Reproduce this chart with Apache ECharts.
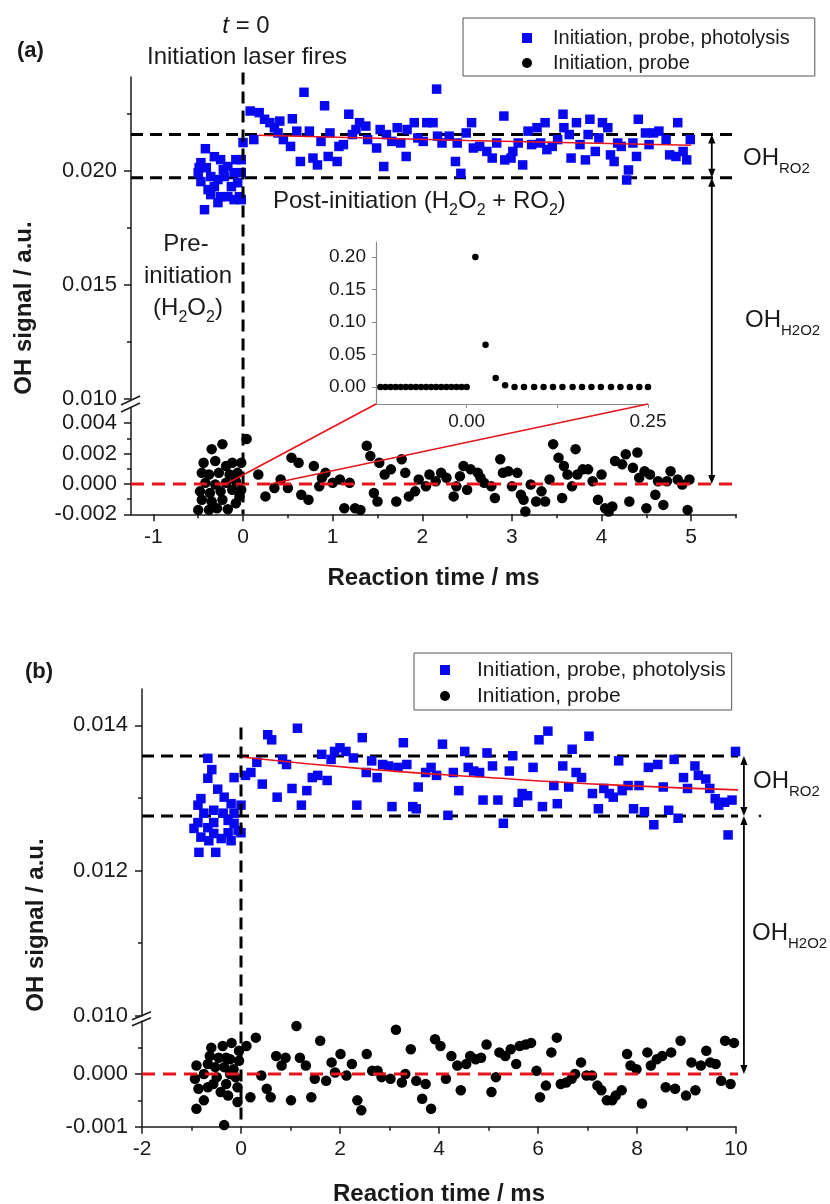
<!DOCTYPE html>
<html><head><meta charset="utf-8">
<script src="https://cdn.jsdelivr.net/npm/echarts@6/dist/echarts.min.js"></script>
<style>html,body{margin:0;padding:0;background:#fff}#c{width:830px;height:1204px}</style>
</head><body><div id="c"></div>
<script>
// ---------------- Panel (a) data ----------------
const aPhotolysisPre = [[-0.42,0.02096],[-0.47,0.02035],[-0.50,0.01991],[-0.47,0.01952],[-0.39,0.01917],[-0.43,0.01829],[-0.28,0.01860],[-0.32,0.02061],[-0.25,0.02048],[-0.17,0.02018],[-0.10,0.01991],[-0.13,0.01930],[-0.04,0.01886],[-0.02,0.01873],[-0.10,0.01873],[-0.36,0.01974],[-0.28,0.01961],[-0.21,0.01974],[-0.17,0.01886],[-0.02,0.01991],[-0.02,0.02048],[0.00,0.02123],[-0.49,0.02013],[-0.41,0.02013],[-0.08,0.02048],[-0.25,0.01886],[-0.32,0.01930],[-0.22,0.02004],[-0.36,0.01895],[-0.06,0.01947]];
const aPhotolysisPost = [[0.08,0.02261],[0.18,0.02254],[0.12,0.02136],[0.24,0.02225],[0.30,0.02210],[0.35,0.02188],[0.41,0.02217],[0.39,0.02165],[0.45,0.02136],[0.53,0.02106],[0.55,0.02227],[0.60,0.02173],[0.64,0.02040],[0.68,0.02343],[0.74,0.02173],[0.78,0.02055],[0.83,0.02025],[0.87,0.02128],[0.91,0.02284],[0.97,0.02165],[0.95,0.02062],[1.05,0.02040],[1.07,0.02106],[1.12,0.02114],[1.18,0.02247],[1.22,0.02158],[1.26,0.02180],[1.30,0.02210],[1.37,0.02195],[1.39,0.02136],[1.49,0.02099],[1.53,0.02180],[1.57,0.02018],[1.60,0.02158],[1.66,0.02128],[1.72,0.02188],[1.76,0.02121],[1.82,0.02062],[1.83,0.02180],[1.91,0.02210],[1.95,0.02143],[2.01,0.02128],[2.05,0.02210],[2.12,0.02210],[2.16,0.02357],[2.17,0.02151],[2.22,0.02121],[2.30,0.02151],[2.37,0.02040],[2.39,0.02121],[2.43,0.01988],[2.49,0.02165],[2.55,0.02210],[2.57,0.02099],[2.64,0.02106],[2.72,0.02084],[2.78,0.02055],[2.83,0.02121],[2.91,0.02239],[2.92,0.02047],[2.99,0.02055],[3.01,0.02084],[3.07,0.02121],[3.12,0.02025],[3.18,0.02173],[3.22,0.02114],[3.28,0.02188],[3.32,0.02121],[3.37,0.02210],[3.39,0.02092],[3.45,0.02106],[3.51,0.02136],[3.57,0.02247],[3.58,0.02188],[3.64,0.02158],[3.66,0.02055],[3.72,0.02210],[3.76,0.02114],[3.82,0.02047],[3.85,0.02158],[3.87,0.02225],[3.93,0.02084],[3.97,0.02143],[4.01,0.02210],[4.07,0.02188],[4.10,0.02069],[4.14,0.02040],[4.18,0.02121],[4.22,0.02106],[4.28,0.01959],[4.30,0.02003],[4.35,0.02121],[4.39,0.02062],[4.41,0.02225],[4.49,0.02165],[4.53,0.02114],[4.58,0.02165],[4.64,0.02173],[4.72,0.02136],[4.76,0.02069],[4.83,0.02062],[4.85,0.02210],[4.91,0.02084],[4.95,0.02047],[4.99,0.02136]];
const aProbePre = [[-0.23,0.00262],[-0.35,0.00229],[0.04,0.00296],[-0.44,0.00140],[-0.31,0.00151],[-0.19,0.00118],[-0.12,0.00140],[-0.02,0.00140],[-0.46,0.00073],[-0.38,0.00062],[-0.27,0.00073],[-0.15,0.00062],[-0.06,0.00073],[-0.42,0.00007],[-0.31,-0.00004],[-0.19,0.00007],[-0.08,0.00018],[-0.48,-0.00049],[-0.37,-0.00060],[-0.25,-0.00049],[-0.12,-0.00038],[-0.02,-0.00038],[-0.46,-0.00104],[-0.35,-0.00116],[-0.23,-0.00104],[-0.50,-0.00171],[-0.38,-0.00171],[-0.29,-0.00160],[-0.17,-0.00167],[-0.08,-0.00127],[-0.04,-0.00082]];
const aProbePost = [[0.17,0.00062],[0.25,-0.00082],[0.35,-0.00027],[0.42,0.00029],[0.50,-0.00027],[0.54,0.00173],[0.62,0.00140],[0.65,-0.00071],[0.73,-0.00104],[0.79,0.00118],[0.85,-0.00016],[0.88,0.00040],[0.92,0.00073],[1.00,0.00007],[1.08,0.00029],[1.13,-0.00160],[1.19,0.00007],[1.25,-0.00160],[1.31,-0.00171],[1.38,0.00251],[1.42,0.00184],[1.46,-0.00060],[1.50,-0.00116],[1.52,0.00140],[1.58,0.00062],[1.65,0.00096],[1.71,-0.00116],[1.77,0.00162],[1.81,0.00073],[1.85,-0.00082],[1.92,-0.00049],[1.96,0.00029],[2.04,-0.00016],[2.08,0.00062],[2.15,0.00018],[2.21,0.00073],[2.27,0.00040],[2.35,-0.00082],[2.38,-0.00016],[2.42,0.00051],[2.46,0.00118],[2.50,-0.00038],[2.54,0.00096],[2.62,0.00073],[2.65,0.00040],[2.69,0.00007],[2.77,-0.00016],[2.81,-0.00093],[2.87,0.00162],[2.90,0.00073],[2.96,0.00084],[3.00,-0.00016],[3.06,0.00073],[3.10,-0.00071],[3.13,-0.00104],[3.15,-0.00182],[3.21,-0.00004],[3.27,-0.00116],[3.33,-0.00049],[3.37,-0.00116],[3.42,0.00029],[3.46,0.00262],[3.52,0.00173],[3.56,-0.00093],[3.58,0.00118],[3.62,0.00062],[3.67,-0.00016],[3.71,0.00229],[3.73,0.00062],[3.79,0.00096],[3.85,0.00096],[3.90,0.00018],[3.96,-0.00104],[4.00,0.00062],[4.04,-0.00160],[4.08,-0.00182],[4.12,-0.00149],[4.15,0.00151],[4.23,0.00129],[4.27,0.00196],[4.31,-0.00116],[4.35,0.00107],[4.40,0.00207],[4.42,0.00040],[4.48,0.00084],[4.50,-0.00160],[4.54,0.00062],[4.60,-0.00071],[4.63,0.00018],[4.69,-0.00138],[4.73,0.00018],[4.77,0.00084],[4.85,0.00029],[4.90,-0.00004],[4.96,-0.00171],[4.98,0.00029]];
const aInset = [[-0.119,0],[-0.112,0],[-0.105,0],[-0.098,0],[-0.091,0],[-0.084,0],[-0.077,0],[-0.070,0],[-0.063,0],[-0.056,0],[-0.049,0],[-0.042,0],[-0.035,0],[-0.028,0],[-0.021,0],[-0.014,0],[-0.007,0],[0.000,0],[0.012,0.200],[0.026,0.065],[0.040,0.014],[0.053,0.003],[0.066,0],[0.079,0],[0.093,0],[0.106,0],[0.119,0],[0.132,0],[0.146,0],[0.159,0],[0.172,0],[0.185,0],[0.199,0],[0.212,0],[0.225,0],[0.238,0],[0.250,0]];
const aFit = [[0.17,0.02155],[2.5,0.02132],[5.0,0.02111]];
const aLevels = [0.02158, 0.01969];
const aXTicks = [-1,0,1,2,3,4,5];
const aXMinor = [-0.5,0.5,1.5,2.5,3.5,4.5,5.5];
const aYTicksUpper = [0.010,0.015,0.020];
const aYMinorUpper = [0.0125,0.0175,0.0225];
const aYTicksLower = [-0.002,0,0.002,0.004];
const aYMinorLower = [-0.001,0.001,0.003];
const aInsetYTicks = [0,0.05,0.10,0.15,0.20];
const aInsetXTicks = [0,0.25];
const aInsetXTickMarks = [0,0.125,0.25];

// ---------------- Panel (b) data ----------------
const bPhotolysisPre = [[-0.67,0.013545],[-0.59,0.01339],[-0.67,0.01327],[-0.47,0.01312],[-0.81,0.01299],[-0.87,0.01290],[-0.34,0.01301],[-0.20,0.01292],[0.00,0.01290],[-0.14,0.01328],[-0.95,0.01258],[-0.81,0.01246],[-0.65,0.01241],[-0.40,0.01244],[-0.20,0.01241],[-0.85,0.01225],[-0.51,0.01225],[-0.55,0.01266],[-0.06,0.01255],[-0.75,0.01279],[-0.55,0.01283],[-0.26,0.01269],[-0.87,0.01266],[-0.36,0.01279],[-0.14,0.01265],[0.00,0.01252],[-0.26,0.01252],[-0.55,0.01251],[-0.67,0.01259],[-0.14,0.01279]];
const bPhotolysisPost = [[0.09,0.01331],[0.20,0.01335],[0.32,0.01349],[0.43,0.01319],[0.54,0.01387],[0.62,0.01380],[0.73,0.01301],[0.84,0.01353],[0.92,0.01346],[1.03,0.01313],[1.14,0.01396],[1.22,0.01290],[1.33,0.01310],[1.44,0.01328],[1.55,0.01331],[1.63,0.01360],[1.74,0.01324],[1.82,0.01353],[1.89,0.01364],[2.00,0.01369],[2.12,0.01364],[2.27,0.01355],[2.34,0.01290],[2.45,0.01383],[2.53,0.01335],[2.64,0.01351],[2.75,0.01328],[2.86,0.01346],[2.98,0.01344],[3.05,0.01288],[3.17,0.01342],[3.28,0.01376],[3.35,0.01346],[3.47,0.01288],[3.54,0.01285],[3.58,0.01315],[3.73,0.01335],[3.84,0.01342],[3.95,0.01331],[4.07,0.01374],[4.18,0.01276],[4.29,0.01335],[4.40,0.01310],[4.52,0.01364],[4.59,0.01342],[4.70,0.01337],[4.82,0.01335],[4.89,0.01297],[4.97,0.01362],[5.08,0.01344],[5.19,0.01297],[5.30,0.01265],[5.42,0.01337],[5.49,0.01358],[5.60,0.01294],[5.68,0.01306],[5.79,0.01303],[5.90,0.01342],[6.02,0.01380],[6.09,0.01288],[6.20,0.01392],[6.32,0.01317],[6.39,0.01292],[6.50,0.01344],[6.62,0.01315],[6.69,0.01367],[6.77,0.01335],[6.88,0.01328],[7.03,0.01385],[7.10,0.01306],[7.22,0.01285],[7.33,0.01313],[7.44,0.01306],[7.52,0.01301],[7.63,0.01351],[7.70,0.01310],[7.82,0.01317],[7.93,0.01285],[8.04,0.01317],[8.15,0.01281],[8.23,0.01342],[8.34,0.01263],[8.42,0.01346],[8.53,0.01315],[8.64,0.01283],[8.75,0.01353],[8.83,0.01272],[8.94,0.01328],[9.02,0.01313],[9.17,0.01344],[9.24,0.01331],[9.39,0.01326],[9.47,0.01313],[9.58,0.01299],[9.65,0.01290],[9.77,0.01294],[9.84,0.01249],[9.92,0.01297],[9.99,0.01364]];
const bProbePre = [[-0.90,0.00016],[-0.93,-0.00009],[-0.86,-0.00028],[-0.90,-0.00066],[-0.75,-0.00050],[-0.67,-0.00025],[-0.63,0.00034],[-0.60,0.00050],[-0.52,0.00013],[-0.49,-0.00006],[-0.45,0.00031],[-0.41,-0.00034],[-0.37,0.00053],[-0.34,0.00013],[-0.30,-0.00019],[-0.26,-0.00041],[-0.22,0.00028],[-0.19,0.00059],[-0.15,0.00009],[-0.11,-0.00006],[-0.07,-0.00025],[-0.07,-0.00053],[-0.04,0.00044],[-0.04,0.00025],[-0.34,-0.00097],[-0.67,0.00019],[-0.56,-0.00019],[-0.22,0.00000],[-0.75,0.00000],[-0.30,0.00031]];
const bProbePost = [[0.11,0.00053],[0.19,-0.00044],[0.30,0.00069],[0.41,-0.00003],[0.52,-0.00028],[0.60,-0.00044],[0.71,0.00034],[0.82,0.00016],[0.90,0.00031],[1.01,-0.00050],[1.12,0.00091],[1.19,0.00031],[1.31,0.00016],[1.42,-0.00044],[1.49,-0.00009],[1.60,0.00063],[1.72,-0.00013],[1.83,0.00022],[1.90,0.00003],[2.01,0.00038],[2.13,-0.00003],[2.24,0.00019],[2.35,-0.00050],[2.43,-0.00069],[2.54,0.00038],[2.65,0.00006],[2.76,0.00006],[2.84,-0.00006],[3.02,-0.00009],[3.13,0.00084],[3.25,-0.00016],[3.32,0.00000],[3.43,0.00047],[3.54,-0.00013],[3.66,-0.00047],[3.73,-0.00019],[3.84,-0.00066],[3.92,0.00066],[4.03,0.00053],[4.14,-0.00009],[4.25,0.00034],[4.37,0.00016],[4.44,-0.00031],[4.55,0.00019],[4.63,0.00034],[4.74,0.00028],[4.85,0.00031],[4.96,0.00056],[5.06,-0.00034],[5.15,-0.00006],[5.22,0.00041],[5.34,0.00034],[5.45,0.00047],[5.56,0.00019],[5.63,0.00053],[5.75,0.00056],[5.86,0.00059],[5.97,0.00006],[6.04,-0.00044],[6.16,-0.00022],[6.27,0.00041],[6.38,0.00069],[6.46,-0.00019],[6.57,-0.00016],[6.68,-0.00009],[6.75,0.00000],[6.87,0.00022],[6.98,-0.00003],[7.09,-0.00003],[7.20,-0.00022],[7.28,-0.00031],[7.39,-0.00050],[7.50,-0.00050],[7.57,-0.00041],[7.69,-0.00031],[7.80,0.00038],[7.87,0.00016],[7.99,0.00009],[8.10,-0.00056],[8.21,0.00041],[8.28,0.00016],[8.40,0.00028],[8.51,0.00034],[8.58,-0.00025],[8.69,0.00041],[8.77,-0.00028],[8.88,0.00063],[8.99,-0.00041],[9.10,0.00022],[9.18,-0.00031],[9.29,0.00016],[9.40,0.00044],[9.48,0.00022],[9.59,0.00019],[9.70,-0.00013],[9.78,0.00063],[9.89,-0.00019],[9.96,0.00059]];
const bFit = [[0.05,0.01356],[2.5,0.01340],[5.0,0.01328],[7.5,0.01318],[10.07,0.01311]];
const bLevels = [0.013577, 0.01275];
const bXTicks = [-2,0,2,4,6,8,10];
const bXMinor = [-1,1,3,5,7,9];
const bYTicksUpper = [0.010,0.012,0.014];
const bYMinorUpper = [0.011,0.013];
const bYTicksLower = [-0.001,0];
const bYMinorLower = [-0.0005,0.0005];

const NAME_P = 'Initiation, probe, photolysis';
const NAME_N = 'Initiation, probe';

// ---------------- styling ----------------
const FONT = '"Liberation Sans", Arial, Helvetica, sans-serif';
const INK = '#1a1a1a';
const BLUE = '#0808f0';
const RED = '#e8141b';
const AL = {show:true, onZero:false, lineStyle:{color:INK, width:1.5}};
const NOLINE = {show:false, onZero:false};

function xMain(grid, min, max, ticks, nameGap) {
  return {gridIndex:grid, type:'value', min, max, position:'bottom', axisLine:AL,
    axisTick:{show:true, customValues:ticks, length:7, lineStyle:{color:INK,width:1.5}},
    axisLabel:{show:true, customValues:ticks, formatter:v=>String(v), fontSize:21, fontFamily:FONT, color:INK, margin:12},
    splitLine:{show:false}, name:'Reaction time / ms', nameLocation:'middle', nameGap,
    nameTextStyle:{fontSize:24, fontWeight:'bold', fontFamily:FONT, color:INK}};
}
function xMinor(grid, min, max, ticks) {
  return {gridIndex:grid, type:'value', min, max, position:'bottom', axisLine:NOLINE,
    axisTick:{show:true, customValues:ticks, length:4, lineStyle:{color:INK,width:1.5}},
    axisLabel:{show:false}, splitLine:{show:false}};
}
function yMain(grid, min, max, ticks) {
  return {gridIndex:grid, type:'value', min, max, position:'left', axisLine:AL,
    axisTick:{show:true, customValues:ticks, length:7, lineStyle:{color:INK,width:1.5}},
    axisLabel:{show:true, customValues:ticks, formatter:v=>v.toFixed(3), fontSize:22, fontFamily:FONT, color:INK, margin:14},
    splitLine:{show:false}};
}
function yMinor(grid, min, max, ticks) {
  return {gridIndex:grid, type:'value', min, max, position:'left', axisLine:NOLINE,
    axisTick:{show:true, customValues:ticks, length:4, lineStyle:{color:INK,width:1.5}},
    axisLabel:{show:false}, splitLine:{show:false}};
}
function hline(xi, yi, pts, color, width, dash, z) {
  return {type:'line', xAxisIndex:xi, yAxisIndex:yi, data:pts, symbol:'none', showSymbol:false, clip:false,
    silent:true, z, lineStyle:{color, width, type:dash}, animation:false};
}
const DOT = (color) => ({color, opacity:1});

const option = {
  animation:false,
  backgroundColor:'#fff',
  textStyle:{fontFamily:FONT},
  grid:[
    {left:131, top:77, width:605, height:322, containLabel:false, outerBoundsMode:'none'},
    {left:131, top:408, width:605, height:106.3, containLabel:false, outerBoundsMode:'none'},
    {left:376, top:242, width:272, height:162, containLabel:false, outerBoundsMode:'none'},
    {left:142, top:689, width:594, height:326.7, containLabel:false, outerBoundsMode:'none'},
    {left:142, top:1021.3, width:594, height:105.4, containLabel:false, outerBoundsMode:'none'}
  ],
  xAxis:[
    {gridIndex:0, type:'value', min:-1.25, max:5.5, show:false, axisLine:{onZero:false}},
    xMain(1, -1.25, 5.5, aXTicks, 52),
    xMinor(1, -1.25, 5.5, aXMinor),
    {gridIndex:2, type:'value', min:-0.125, max:0.25, position:'bottom',
      axisLine:{show:true, onZero:false, lineStyle:{color:'#8a8a8a', width:1.2}},
      axisTick:{show:true, customValues:aInsetXTickMarks, length:4, lineStyle:{color:'#8a8a8a'}},
      axisLabel:{show:true, customValues:aInsetXTicks, formatter:v=>v.toFixed(2), fontSize:19, fontFamily:FONT, color:INK, margin:8},
      splitLine:{show:false}},
    {gridIndex:3, type:'value', min:-2, max:10, show:false, axisLine:{onZero:false}},
    xMain(4, -2, 10, bXTicks, 56),
    xMinor(4, -2, 10, bXMinor)
  ],
  yAxis:[
    yMain(0, 0.010, 0.0241, aYTicksUpper),
    yMinor(0, 0.010, 0.0241, aYMinorUpper),
    yMain(1, -0.002, 0.005, aYTicksLower),
    yMinor(1, -0.002, 0.005, aYMinorLower),
    {gridIndex:2, type:'value', min:-0.026, max:0.223, position:'left',
      axisLine:{show:true, onZero:false, lineStyle:{color:'#8a8a8a', width:1.2}},
      axisTick:{show:true, customValues:aInsetYTicks, length:4, lineStyle:{color:'#8a8a8a'}},
      axisLabel:{show:true, customValues:aInsetYTicks, formatter:v=>v.toFixed(2), fontSize:19, fontFamily:FONT, color:INK, margin:10},
      splitLine:{show:false}},
    yMain(3, 0.010, 0.0145, bYTicksUpper),
    yMinor(3, 0.010, 0.0145, bYMinorUpper),
    yMain(4, -0.001, 0.001, bYTicksLower),
    yMinor(4, -0.001, 0.001, bYMinorLower)
  ],
  legend:[
    {data:[NAME_P, NAME_N], orient:'vertical', left:463, top:18, padding:[9,25,2,59], itemGap:3,
      itemWidth:10, itemHeight:10, borderColor:'#555', borderWidth:1, selectedMode:false,
      itemStyle:{opacity:1},
      textStyle:{fontFamily:FONT, fontSize:20, color:INK, lineHeight:22, padding:[0,0,0,16]}},
    {data:[NAME_P, NAME_N], orient:'vertical', left:414, top:653, padding:[5,6,2,26], itemGap:2,
      itemWidth:10, itemHeight:10, borderColor:'#555', borderWidth:1, selectedMode:false,
      itemStyle:{opacity:1},
      textStyle:{fontFamily:FONT, fontSize:21, color:INK, lineHeight:24, padding:[0,0,0,22]}}
  ],
  series:[
    hline(0, 0, [[-1.25, aLevels[0]],[5.52, aLevels[0]]], '#000', 3, [12,7], 1),
    hline(0, 0, [[-1.25, aLevels[1]],[5.52, aLevels[1]]], '#000', 3, [12,7], 1),
    {type:'scatter', name:NAME_P, xAxisIndex:0, yAxisIndex:0, data:aPhotolysisPre.concat(aPhotolysisPost),
      symbol:'rect', symbolSize:9.5, itemStyle:DOT(BLUE), z:2, silent:true},
    {type:'line', xAxisIndex:0, yAxisIndex:0, data:aFit, smooth:true, symbol:'none', showSymbol:false,
      lineStyle:{color:RED, width:1.6}, z:4, silent:true},
    {type:'scatter', name:NAME_N, xAxisIndex:1, yAxisIndex:2, data:aProbePre.concat(aProbePost),
      symbol:'circle', symbolSize:10.5, itemStyle:DOT('#000'), z:2, silent:true},
    hline(1, 2, [[-1.25,0],[5.52,0]], RED, 3, [13,8], 5),
    {type:'scatter', xAxisIndex:3, yAxisIndex:4, data:aInset, symbol:'circle', symbolSize:6.5,
      itemStyle:DOT('#000'), z:2, silent:true},

    hline(4, 5, [[-2, bLevels[0]],[10.22, bLevels[0]]], '#000', 3, [12,7], 1),
    hline(4, 5, [[-2, bLevels[1]],[10.22, bLevels[1]]], '#000', 3, [12,7], 1),
    {type:'scatter', name:NAME_P, xAxisIndex:4, yAxisIndex:5, data:bPhotolysisPre.concat(bPhotolysisPost),
      symbol:'rect', symbolSize:9.5, itemStyle:DOT(BLUE), z:2, silent:true},
    {type:'line', xAxisIndex:4, yAxisIndex:5, data:bFit, smooth:true, symbol:'none', showSymbol:false,
      lineStyle:{color:RED, width:1.6}, z:4, silent:true},
    {type:'scatter', name:NAME_N, xAxisIndex:5, yAxisIndex:7, data:bProbePre.concat(bProbePost),
      symbol:'circle', symbolSize:10.5, itemStyle:DOT('#000'), z:2, silent:true},
    hline(5, 7, [[-2,0],[10.22,0]], RED, 3, [13,8], 5)
  ]
};

const chart = echarts.init(document.getElementById('c'));
chart.setOption(option);

// ---------------- annotations (positions via the chart's own scales) ----------------
const S_AU = 2, S_AL = 4, S_IN = 6, S_BU = 9, S_BL = 11;
const P = (s, x, y) => chart.convertToPixel({seriesIndex:s}, [x, y]) || [0, 0];
const G = [];
const Z = 100;
function seg(p1, p2, stroke, w, dash) {
  G.push({type:'line', z:Z, silent:true, shape:{x1:p1[0],y1:p1[1],x2:p2[0],y2:p2[1]},
    style:{stroke, lineWidth:w, lineDash:dash||null}});
}
function arrow(x, yTop, yBot) {
  const h = 9, w = 3.6;
  seg([x, yTop + 3], [x, yBot - 3], '#000', 1.8);
  G.push({type:'polygon', z:Z, silent:true, shape:{points:[[x,yTop],[x-w,yTop+h],[x+w,yTop+h]]}, style:{fill:'#000'}});
  G.push({type:'polygon', z:Z, silent:true, shape:{points:[[x,yBot],[x-w,yBot-h],[x+w,yBot-h]]}, style:{fill:'#000'}});
}
function txt(x, y, str, opt) {
  opt = opt || {};
  G.push({type:'text', z:Z, silent:true, x, y, rotation:opt.rot || 0,
    style:{text:str, fill:INK, fontSize:opt.size || 24, fontFamily:FONT,
      fontStyle:opt.italic ? 'italic' : 'normal',
      fontWeight:opt.bold ? 'bold' : 'normal', align:opt.align || 'left',
      verticalAlign:'middle'}});
}
// text made of pieces: ['n' normal, 'i' italic, 's' chemistry subscript, 'o' label subscript]
const mctx = document.createElement('canvas').getContext('2d');
const PIECE = {n:{size:24, dy:0}, i:{size:24, dy:0, italic:true}, s:{size:16, dy:9}, o:{size:15, dy:10}};
function tw(str, k) {
  const p = PIECE[k];
  mctx.font = (p.italic ? 'italic ' : '') + p.size + 'px ' + FONT;
  return mctx.measureText(str).width;
}
function pieces(x, y, parts, align) {
  const total = parts.reduce((a, p) => a + tw(p[0], p[1]), 0);
  let cx = align === 'center' ? x - total / 2 : x;
  parts.forEach(p => {
    const k = PIECE[p[1]];
    txt(cx, y + k.dy, p[0], {size:k.size, italic:k.italic});
    cx += tw(p[0], p[1]);
  });
}

// vertical t = 0 markers
const aT0Top = 0.0243;
seg(P(S_AU,0,aT0Top), P(S_AL,0,-0.002), '#000', 3, [12,7]);
const bT0Top = 0.01397;
seg(P(S_BU,0,bT0Top), P(S_BL,0,-0.001), '#000', 3, [12,7]);

// arrows (a)
const aArrowX = 5.23;
const aTop = P(S_AU,aArrowX,aLevels[0]), aMid = P(S_AU,aArrowX,aLevels[1]), aBot = P(S_AL,aArrowX,0);
arrow(aTop[0], aTop[1], aMid[1]);
arrow(aTop[0], aMid[1], aBot[1]);
// arrows (b)
const bArrowX = 10.16;
const bTop = P(S_BU,bArrowX,bLevels[0]), bMid = P(S_BU,bArrowX,bLevels[1]), bBot = P(S_BL,bArrowX,0);
arrow(bTop[0], bTop[1], bMid[1]);
arrow(bTop[0], bMid[1], bBot[1]);

// inset connector lines
const aZoomFrom = [-0.19, 0.30];
seg(P(S_AL,aZoomFrom[0],0), P(S_IN,-0.125,-0.026), RED, 1.6);
seg(P(S_AL,aZoomFrom[1],0), P(S_IN,0.25,-0.026), RED, 1.6);

// axis break marks
function brk(p, d1, d2) {
  seg([p[0]-10, p[1]+d1[0]], [p[0]+9, p[1]+d1[1]], INK, 1.5);
  seg([p[0]-10, p[1]+d2[0]], [p[0]+9, p[1]+d2[1]], INK, 1.5);
}
brk(P(S_AU,-1.25,0.010), [6,-3], [13,4]);
brk(P(S_BU,-2,0.010), [4,-4], [10,2]);

// texts
txt(17, 51, '(a)', {bold:true, size:22});
txt(25, 672, '(b)', {bold:true, size:22});
pieces(246, 26.6, [['t','i'],[' = 0','n']], 'center');
txt(247, 57.6, 'Initiation laser fires', {align:'center'});
txt(186, 244.6, 'Pre-', {align:'center'});
txt(188, 276.6, 'initiation', {align:'center'});
pieces(188, 308.4, [['(H','n'],['2','s'],['O','n'],['2','s'],[')','n']], 'center');
pieces(273, 201.7, [['Post-initiation (H','n'],['2','s'],['O','n'],['2','s'],[' + RO','n'],['2','s'],[')','n']]);
pieces(743, 158.4, [['OH','n'],['RO2','o']]);
pieces(745, 320.7, [['OH','n'],['H2O2','o']]);
pieces(753, 781.7, [['OH','n'],['RO2','o']]);
pieces(752, 933.7, [['OH','n'],['H2O2','o']]);
G.push({type:'circle', z:Z, silent:true, shape:{cx:760, cy:816, r:1.4}, style:{fill:INK}});
txt(24, 308, 'OH signal / a.u.', {bold:true, align:'center', rot:Math.PI/2});
txt(36, 925, 'OH signal / a.u.', {bold:true, align:'center', rot:Math.PI/2});

chart.setOption({graphic:{elements:G}});
</script></body></html>
